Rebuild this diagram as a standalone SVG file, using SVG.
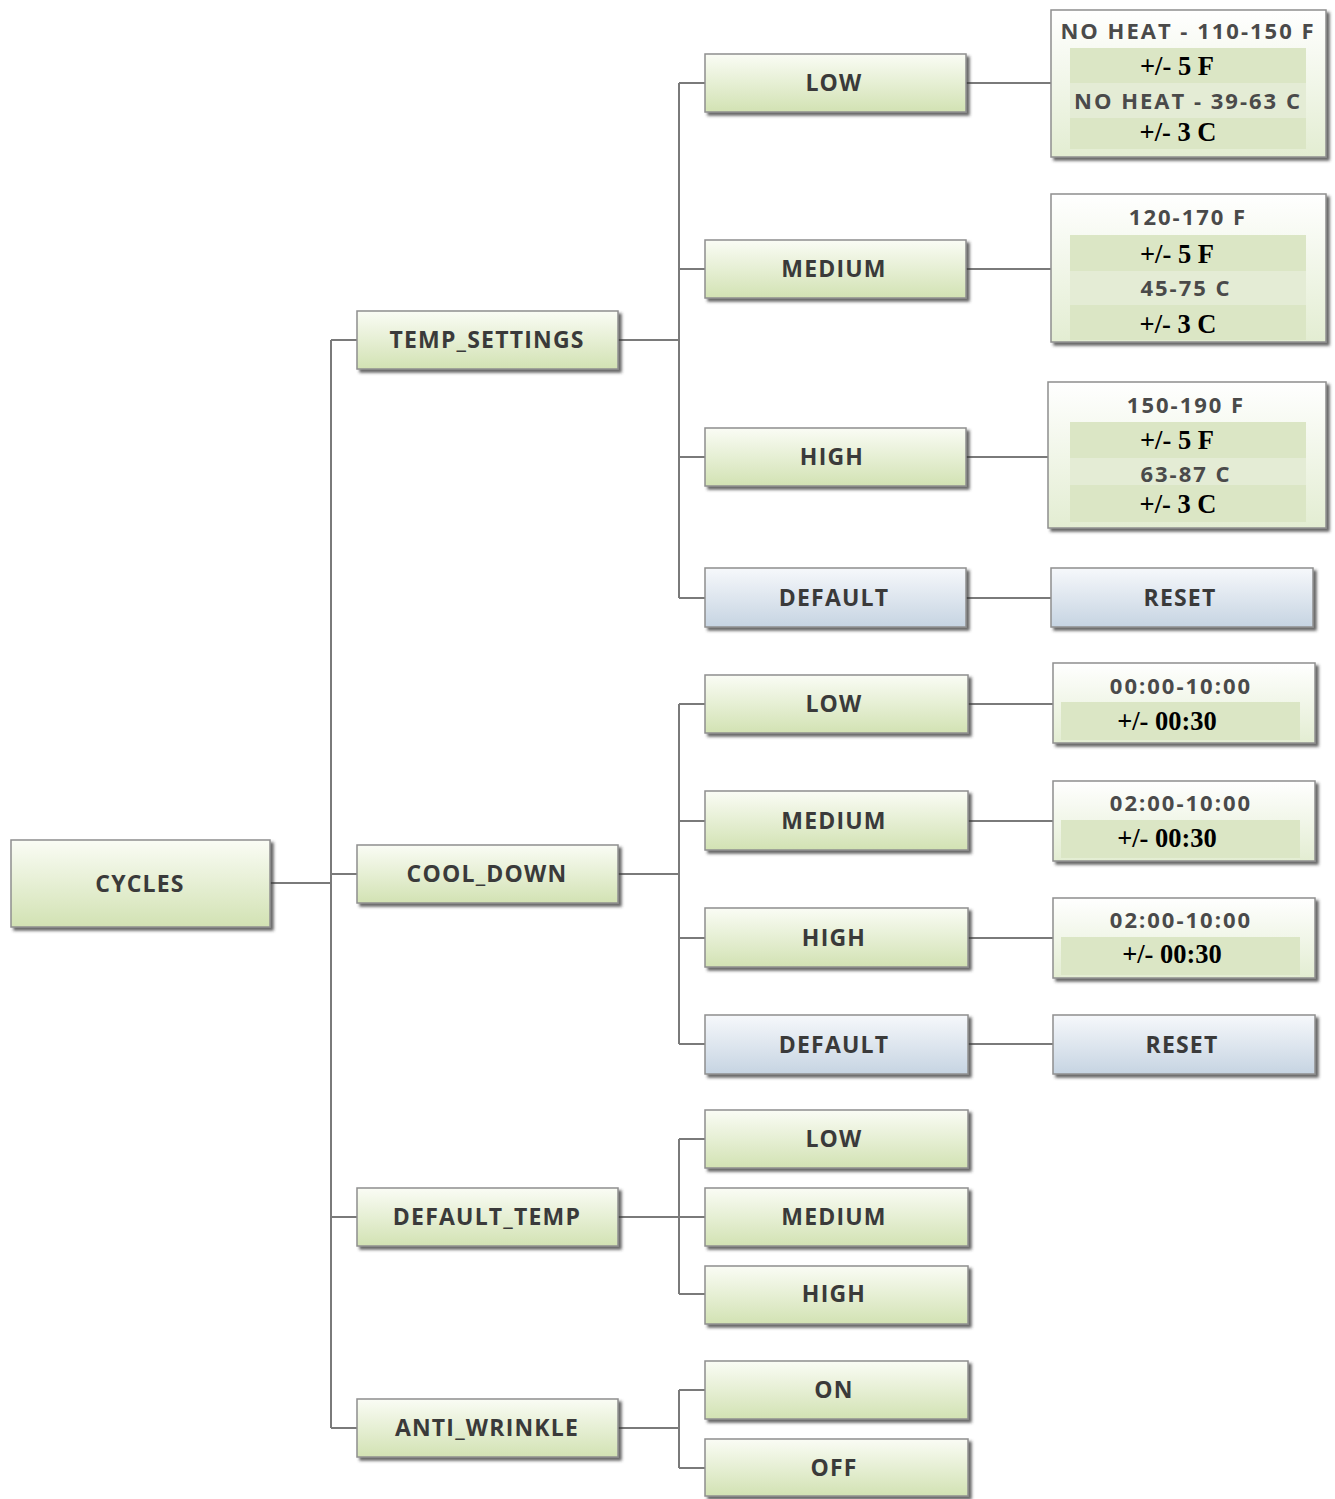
<svg xmlns="http://www.w3.org/2000/svg" width="1335" height="1499" viewBox="0 0 1335 1499">
<defs>
<linearGradient id="gg" x1="0" y1="0" x2="0" y2="1"><stop offset="0" stop-color="#fafcf5"/><stop offset="1" stop-color="#d2e2b3"/></linearGradient>
<linearGradient id="bg" x1="0" y1="0" x2="0" y2="1"><stop offset="0" stop-color="#f6f8fb"/><stop offset="1" stop-color="#c6d4e2"/></linearGradient>
<linearGradient id="wg" x1="0" y1="0" x2="0" y2="1"><stop offset="0" stop-color="#ffffff"/><stop offset="1" stop-color="#e3edd2"/></linearGradient>
<filter id="sh" x="-5%" y="-10%" width="115%" height="130%"><feDropShadow dx="3" dy="3" stdDeviation="1.5" flood-color="#333" flood-opacity="0.75"/></filter>
</defs>
<style>
.g{fill:url(#gg);stroke:#8f8f8f;stroke-width:1.5;filter:url(#sh)}
.b{fill:url(#bg);stroke:#8f8f8f;stroke-width:1.5;filter:url(#sh)}
.w{fill:url(#wg);stroke:#8f8f8f;stroke-width:1.5;filter:url(#sh)}
.band{fill:#dbe6c5}
.band2{fill:#e4ecd5}
.t{font-family:"Open Sans","Liberation Sans",sans-serif;font-weight:700;font-size:23px;fill:#3a3a3a;text-anchor:middle;letter-spacing:1.2px}
.t3{font-family:"Open Sans","Liberation Sans",sans-serif;font-weight:700;font-size:22px;fill:#4a4a4a;text-anchor:middle;letter-spacing:2px}
.s{font-family:"Liberation Serif","Times New Roman",serif;font-weight:700;font-size:26.5px;fill:#000;text-anchor:middle}
.c{fill:none;stroke:#7a7a7a;stroke-width:2}
</style>
<rect width="1335" height="1499" fill="#fff"/>
<g id="connectors" class="c">
<path d="M270 883H331M331 340V1428M331 340H357M331 874H357M331 1217H357M331 1428H357"/>
<path d="M618 340H679M679 83V598M679 83H705M679 269H705M679 457H705M679 598H705"/>
<path d="M966 83H1051M966 269H1051M966 457H1048M966 598H1051"/>
<path d="M618 874H679M679 704V1044M679 704H705M679 821H705M679 938H705M679 1044H705"/>
<path d="M968 704H1053M968 821H1053M968 938H1053M968 1044H1053"/>
<path d="M618 1217H705M679 1139V1294M679 1139H705M679 1294H705"/>
<path d="M618 1428H679M679 1390V1468M679 1390H705M679 1468H705"/>
</g>
<g id="cycles"><rect class="g" x="11" y="840" width="259" height="87"/><text class="t" x="140" y="892">CYCLES</text></g>
<g id="temp_settings"><rect class="g" x="357" y="311" width="261" height="58"/><text class="t" x="487" y="348">TEMP_SETTINGS</text></g>
<g id="cool_down"><rect class="g" x="357" y="845" width="261" height="58"/><text class="t" x="487" y="882">COOL_DOWN</text></g>
<g id="default_temp"><rect class="g" x="357" y="1188" width="261" height="58"/><text class="t" x="487" y="1225">DEFAULT_TEMP</text></g>
<g id="anti_wrinkle"><rect class="g" x="357" y="1399" width="261" height="58"/><text class="t" x="487" y="1436">ANTI_WRINKLE</text></g>

<g id="ts_low"><rect class="g" x="705" y="54" width="261" height="58"/><text class="t" x="834" y="91">LOW</text></g>
<g id="ts_medium"><rect class="g" x="705" y="240" width="261" height="58"/><text class="t" x="834" y="277">MEDIUM</text></g>
<g id="ts_high"><rect class="g" x="705" y="428" width="261" height="58"/><text class="t" x="832" y="465">HIGH</text></g>
<g id="ts_default"><rect class="b" x="705" y="568" width="261" height="59"/><text class="t" x="834" y="606">DEFAULT</text></g>

<g id="ts_low_range"><rect class="w" x="1051" y="10" width="275" height="147"/>
<rect class="band" x="1070" y="48" width="236" height="35"/><rect class="band2" x="1070" y="83" width="236" height="35"/><rect class="band" x="1070" y="118" width="236" height="31"/>
<text class="t3" x="1188" y="39">NO HEAT - 110-150 F</text><text class="s" x="1177" y="75">+/- 5 F</text><text class="t3" x="1188" y="109">NO HEAT - 39-63 C</text><text class="s" x="1178" y="141">+/- 3 C</text></g>
<g id="ts_medium_range"><rect class="w" x="1051" y="194" width="275" height="148"/>
<rect class="band" x="1070" y="235" width="236" height="36"/><rect class="band2" x="1070" y="271" width="236" height="34"/><rect class="band" x="1070" y="305" width="236" height="35"/>
<text class="t3" x="1188" y="225">120-170 F</text><text class="s" x="1177" y="263">+/- 5 F</text><text class="t3" x="1186" y="296">45-75 C</text><text class="s" x="1178" y="333">+/- 3 C</text></g>
<g id="ts_high_range"><rect class="w" x="1048" y="382" width="278" height="146"/>
<rect class="band" x="1070" y="422" width="236" height="36"/><rect class="band2" x="1070" y="458" width="236" height="27"/><rect class="band" x="1070" y="485" width="236" height="37"/>
<text class="t3" x="1186" y="413">150-190 F</text><text class="s" x="1177" y="449">+/- 5 F</text><text class="t3" x="1186" y="482">63-87 C</text><text class="s" x="1178" y="513">+/- 3 C</text></g>
<g id="ts_reset"><rect class="b" x="1051" y="568" width="262" height="59"/><text class="t" x="1180" y="606">RESET</text></g>

<g id="cd_low"><rect class="g" x="705" y="675" width="263" height="58"/><text class="t" x="834" y="712">LOW</text></g>
<g id="cd_medium"><rect class="g" x="705" y="791" width="263" height="59"/><text class="t" x="834" y="829">MEDIUM</text></g>
<g id="cd_high"><rect class="g" x="705" y="908" width="263" height="59"/><text class="t" x="834" y="946">HIGH</text></g>
<g id="cd_default"><rect class="b" x="705" y="1015" width="263" height="59"/><text class="t" x="834" y="1053">DEFAULT</text></g>

<g id="cd_low_time"><rect class="w" x="1053" y="663" width="262" height="80"/><rect class="band" x="1061" y="702" width="239" height="38"/>
<text class="t3" x="1181" y="694">00:00-10:00</text><text class="s" x="1167" y="730">+/- 00:30</text></g>
<g id="cd_medium_time"><rect class="w" x="1053" y="781" width="262" height="80"/><rect class="band" x="1061" y="820" width="239" height="38"/>
<text class="t3" x="1181" y="811">02:00-10:00</text><text class="s" x="1167" y="847">+/- 00:30</text></g>
<g id="cd_high_time"><rect class="w" x="1053" y="898" width="262" height="80"/><rect class="band" x="1061" y="937" width="239" height="38"/>
<text class="t3" x="1181" y="928">02:00-10:00</text><text class="s" x="1172" y="963">+/- 00:30</text></g>
<g id="cd_reset"><rect class="b" x="1053" y="1015" width="262" height="59"/><text class="t" x="1182" y="1053">RESET</text></g>

<g id="dt_low"><rect class="g" x="705" y="1110" width="263" height="58"/><text class="t" x="834" y="1147">LOW</text></g>
<g id="dt_medium"><rect class="g" x="705" y="1188" width="263" height="58"/><text class="t" x="834" y="1225">MEDIUM</text></g>
<g id="dt_high"><rect class="g" x="705" y="1266" width="263" height="58"/><text class="t" x="834" y="1302">HIGH</text></g>

<g id="aw_on"><rect class="g" x="705" y="1361" width="263" height="58"/><text class="t" x="834" y="1398">ON</text></g>
<g id="aw_off"><rect class="g" x="705" y="1439" width="263" height="57"/><text class="t" x="834" y="1476">OFF</text></g>
</svg>
